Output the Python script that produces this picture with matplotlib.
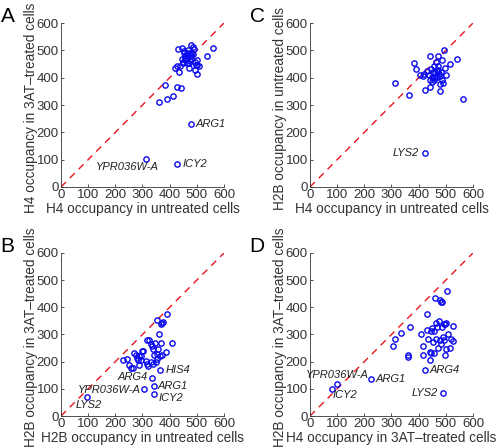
import matplotlib
matplotlib.use("Agg")
import matplotlib.pyplot as plt

# panel A: H4 untreated vs H4 3AT-treated
a_x = [362, 391, 384, 411, 426, 440, 436, 421, 427, 438, 448, 432, 444, 453, 458, 469, 475,
       480, 485, 490, 463, 470, 477, 492, 497, 472, 499, 494, 499, 509, 501, 539, 561, 450,
       458, 465, 455, 462, 468, 478, 484, 446, 452, 474, 487]
a_y = [311, 321, 372, 334, 365, 362, 419, 436, 441, 443, 455, 504, 508, 490, 478, 502, 490,
       519, 514, 504, 453, 455, 468, 458, 446, 435, 465, 428, 414, 443, 448, 480, 507, 459,
       465, 490, 472, 484, 478, 480, 492, 470, 496, 462, 486]
a_lab = ["ARG1", "ICY2", "YPR036W-A"]
a_lab_x = [477, 427, 313]
a_lab_y = [230, 83, 103]

# panel C: H4 untreated vs H2B untreated
c_x = [312, 364, 383, 392, 441, 470, 492, 541, 563, 425, 440, 477, 514, 486, 462, 455, 472,
       498, 499, 487, 491, 479, 455, 441, 451, 431, 416, 406, 421, 437, 461, 470, 477, 457,
       446, 466, 475, 450, 460, 448, 468, 482]
c_y = [380, 338, 452, 431, 480, 480, 502, 468, 321, 355, 367, 353, 451, 466, 458, 443, 443,
       435, 410, 392, 380, 377, 392, 392, 419, 426, 406, 409, 414, 409, 419, 429, 406, 404,
       433, 404, 412, 384, 398, 402, 424, 420]
c_lab = ["LYS2"]
c_lab_x = [423]
c_lab_y = [125]

# panel B: H2B untreated vs H2B 3AT-treated
b_x = [227, 242, 252, 256, 266, 269, 276, 279, 286, 288, 293, 296, 298, 303, 313, 315, 320,
       315, 325, 330, 335, 340, 342, 352, 354, 350, 364, 372, 357, 347, 359, 367, 387, 409,
       352, 367, 377, 372, 389, 337, 330, 282]
b_y = [207, 211, 189, 177, 177, 232, 223, 214, 220, 187, 207, 219, 239, 241, 202, 192, 184,
       278, 281, 266, 256, 246, 226, 229, 211, 198, 220, 226, 248, 270, 300, 269, 236, 270,
       354, 339, 347, 342, 376, 192, 197, 205]
b_lab = ["LYS2", "YPR036W-A", "ARG4", "ARG1", "ICY2", "HIS4"]
b_lab_x = [97, 307, 334, 341, 342, 366]
b_lab_y = [70, 99, 140, 111, 80, 171]

# panel D: H4 3AT-treated vs H2B 3AT-treated
d_x = [307, 314, 334, 369, 362, 362, 408, 415, 415, 430, 432, 436, 440, 445, 440, 445, 450,
       452, 455, 457, 462, 460, 465, 470, 474, 477, 480, 482, 484, 487, 486, 492, 494, 496,
       499, 502, 504, 509, 514, 519, 526, 528, 468, 489, 498]
d_y = [259, 283, 307, 327, 223, 216, 302, 259, 226, 374, 317, 282, 236, 231, 207, 312, 324,
       273, 231, 312, 343, 433, 285, 250, 349, 428, 280, 266, 421, 418, 327, 278, 337, 224,
       246, 344, 460, 303, 251, 282, 330, 276, 326, 290, 340]
d_lab = ["YPR036W-A", "ICY2", "ARG1", "ARG4", "LYS2"]
d_lab_x = [99, 81, 225, 423, 490]
d_lab_y = [118, 99, 136, 170, 85]

# label offsets in points (dx, dy, ha)
a_off = [(3.5, 0, "left"), (4, 0, "left"), (9, -6, "right")]
c_off = [(-4, 0, "right")]
b_off = [(1, -6, "center"), (-3, -1, "right"), (-3, 1, "right"), (3, 0, "left"), (3, -2.5, "left"), (4, 0, "left")]
d_off = [(0, 6.5, "center"), (0.5, -4.5, "left"), (3.5, 0, "left"), (3.5, 0, "left"), (-3.5, 0, "right")]

panels = [
    ("A", [0.1227, 0.5826, 0.328, 0.366], a_x, a_y, a_lab, a_lab_x, a_lab_y, a_off,
     "H4 occupancy in untreated cells", "H4 occupancy in 3AT\u2013treated cells"),
    ("C", [0.6237, 0.5826, 0.328, 0.366], c_x, c_y, c_lab, c_lab_x, c_lab_y, c_off,
     "H4 occupancy in untreated cells", "H2B occupancy in untreated cells"),
    ("B", [0.1227, 0.0714, 0.328, 0.364], b_x, b_y, b_lab, b_lab_x, b_lab_y, b_off,
     "H2B occupancy in untreated cells", "H2B occupancy in 3AT\u2013treated cells"),
    ("D", [0.6237, 0.0714, 0.328, 0.364], d_x, d_y, d_lab, d_lab_x, d_lab_y, d_off,
     "H4 occupancy in 3AT\u2013treated cells", "H2B occupancy in 3AT\u2013treated cells"),
]

plt.rcParams["font.family"] = ["Liberation Sans", "DejaVu Sans"]
fig = plt.figure(figsize=(4.97, 4.48), dpi=100)

for letter, rect, xs, ys, labs, lx, ly, offs, xlabel, ylabel in panels:
    ax = fig.add_axes(rect)
    ax.plot([0, 600], [0, 600], color="#e8141c", linestyle=(0, (5, 4)), linewidth=1.0, zorder=1)
    ax.plot(xs + lx, ys + ly, linestyle="none", marker="o", markersize=3.8,
            markerfacecolor="none", markeredgecolor="#0a0aee", markeredgewidth=1.0, zorder=2)
    for name, x, y, (dx, dy, ha) in zip(labs, lx, ly, offs):
        ax.annotate(name, (x, y), xytext=(dx, dy), textcoords="offset points",
                    ha=ha, va="center", fontsize=8, style="italic", color="#222222")
    ax.set_xlim(0, 600)
    ax.set_ylim(0, 600)
    ax.set_xticks(range(0, 601, 100))
    ax.set_yticks(range(0, 601, 100))
    ax.spines["top"].set_visible(False)
    ax.spines["right"].set_visible(False)
    for s in ("left", "bottom"):
        ax.spines[s].set_linewidth(0.6)
        ax.spines[s].set_color("#333333")
    ax.tick_params(direction="in", length=2.5, width=0.6, labelsize=9.5,
                   labelcolor="#333333", color="#333333", pad=1.5)
    ax.set_xlabel(xlabel, fontsize=9.8, color="#333333")
    ax.set_ylabel(ylabel, fontsize=9.8, color="#333333", va="center")
    ax.xaxis.set_label_coords(0.5, -0.09)
    ax.yaxis.set_label_coords(-0.182, 0.48)
    ax.text(-0.37, 1.10, letter, transform=ax.transAxes, fontsize=15, va="top", ha="left")

fig.savefig("out.png", dpi=100)
